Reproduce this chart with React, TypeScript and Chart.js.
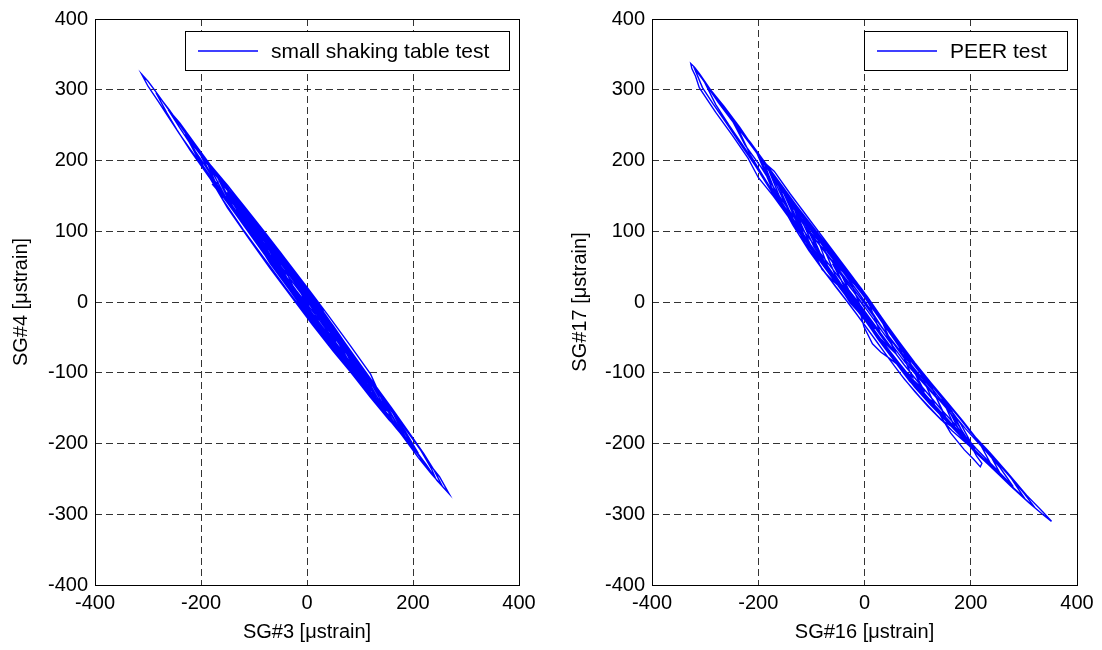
import React, { useEffect, useRef } from "react";
import { Chart, registerables } from "chart.js";

Chart.register(...registerables);

const FONT = "'Liberation Sans', Arial, Helvetica, sans-serif";
const FONT_SIZE = 20;
const LEGEND_FONT_SIZE = 21;
const GRID_COLOR = "rgba(0,0,0,0.8)";
const LINE_COLOR = "rgb(0,0,255)";

// axis ranges / ticks
const xRange = [-400, 400];
const yRange = [-400, 400];
const xStep = 200;
const yStep = 100;

// legend labels and axis titles
const leftLabel = "small shaking table test";
const rightLabel = "PEER test";
const leftXTitle = "SG#3 [\u03bcstrain]";
const leftYTitle = "SG#4 [\u03bcstrain]";
const rightXTitle = "SG#16 [\u03bcstrain]";
const rightYTitle = "SG#17 [\u03bcstrain]";

// SG#3 vs SG#4 trace (small shaking table test)
const smallTableTrace: [number, number][] = [
  [3,-5],
  [-25,30],[-45,52],[-60,66],
  [-35,30],[-5,-2],[20,-30],[45,-50],
  [20,-12],[-15,27],[-50,62],[-85,96],[-120,128],
  [-95,92],[-60,50],[-20,8],[20,-33],[60,-72],[90,-98],[110,-114],
  [80,-76],[40,-30],[0,14],[-40,54],[-70,80],[-95,100],
  [-70,66],[-35,25],[0,-15],[40,-54],[80,-86],
  [50,-42],[15,-2],[-25,40],[-65,78],[-110,120],[-150,158],
  [-120,116],[-80,69],[-40,26],[0,-16],[45,-60],[90,-102],[120,-128],[140,-145],
  [110,-104],[70,-60],[30,-17],[-10,25],[-50,65],[-95,108],[-140,151],[-175,183],[-200,206],
  [-170,166],[-130,121],[-90,78],[-50,36],[-10,-6],[30,-46],[70,-84],[110,-122],[150,-159],[180,-186],[200,-203],
  [175,-172],[140,-132],[100,-88],[60,-46],[20,-6],[-20,36],[-60,74],[-100,112],[-140,150],[-165,170],[-178,166],
  [-160,150],[-120,110],[-80,68],[-40,27],[0,-13],[40,-52],[80,-91],[120,-130],[160,-168],[200,-205],[225,-230],[245,-252],[268,-271],
  [250,-247],[230,-228],[205,-198],[180,-172],[150,-140],[110,-98],[70,-56],[30,-15],[-10,26],[-50,64],[-90,102],[-130,141],[-170,180],[-210,218],[-240,250],[-265,276],[-285,297],[-300,312],[-312,322],
  [-300,305],[-280,283],[-262,262],[-240,237],[-210,205],[-180,172],[-140,130],[-100,88],[-60,46],[-20,5],[20,-35],[60,-74],[100,-112],[140,-150],[180,-188],[210,-216],[230,-238],[242,-248],
  [235,-236],[215,-210],[190,-184],[150,-141],[110,-99],[70,-57],[30,-16],[-10,24],[-50,63],[-90,102],[-130,142],[-170,181],[-210,222],[-240,253],[-262,272],
  [-240,246],[-215,218],[-190,190],[-160,155],[-120,112],[-80,70],[-40,29],[0,-11],[40,-50],[80,-89],[120,-127],[150,-154],
  [125,-120],[90,-82],[50,-40],[10,1],[-30,41],[-70,80],[-105,113],[-130,136],
  [-105,100],[-70,62],[-30,20],[10,-21],[50,-60],[80,-88],[100,-104],
  [75,-70],[40,-32],[0,9],[-40,48],[-80,87],[-110,115],
  [-85,81],[-50,43],[-10,1],[30,-39],[70,-78],[105,-111],[125,-128],
  [100,-96],[60,-53],[20,-11],[-20,30],[-60,70],[-100,110],[-140,150],[-165,173],[-180,186],
  [-155,150],[-120,113],[-80,72],[-40,31],[0,-9],[40,-49],[80,-88],[120,-127],[160,-166],[190,-196],[210,-214],
  [185,-182],[150,-144],[110,-102],[70,-61],[30,-20],[-10,20],[-50,60],[-90,99],[-130,138],[-170,177],[-200,207],[-230,237],
  [-205,202],[-170,164],[-130,122],[-90,81],[-50,40],[-10,0],[30,-40],[65,-73],[90,-94],
  [65,-60],[30,-22],[-10,19],[-50,58],[-90,95],
  [-65,60],[-30,22],[10,-20],[50,-61],[90,-100],[130,-139],[155,-162],[170,-174],
  [145,-140],[110,-102],[70,-60],[30,-18],[-10,22],[-50,61],[-90,100],[-120,128],[-140,146],
  [-115,110],[-80,72],[-40,30],[0,-11],[35,-45],[60,-67],
  [35,-30],[0,8],[-35,43],[-70,76],
  [-45,40],[-10,2],[30,-40],[70,-81],[105,-115],[130,-137],
  [105,-100],[70,-62],[30,-20],[-10,21],[-50,61],[-90,101],[-130,140],[-165,173],
  [-140,135],[-100,93],[-60,51],[-20,10],[20,-30],[60,-70],[100,-110],[140,-150],[180,-189],[210,-220],[235,-243],[255,-260],
  [240,-238],[220,-214],[195,-187],[160,-150],[120,-109],[80,-68],[40,-27],[0,13],[-40,53],[-80,92],[-120,131],[-160,170],[-200,209],[-235,245],[-260,272],[-285,296],
  [-265,268],[-245,243],[-220,214],[-185,177],[-145,135],[-105,94],[-65,53],[-25,12],[15,-28],[55,-67],[90,-100],[115,-121],
  [90,-84],[55,-46],[15,-4],[-25,37],[-65,76],[-100,109],[-120,126],
  [-95,90],[-60,52],[-20,10],[20,-30],[55,-63],[75,-79],
  [50,-45],[15,-7],[-25,34],[-65,73],[-100,105],
  [-75,70],[-40,32],[0,-10],[40,-51],[80,-91],[120,-130],[155,-163],[185,-190],
  [160,-154],[120,-111],[80,-69],[40,-28],[0,13],[-40,53],[-80,92],[-120,131],[-160,170],[-200,208],
  [-175,170],[-140,132],[-100,90],[-60,49],[-20,8],[20,-32],[60,-71],[85,-93],[95,-99],
  [70,-64],[35,-26],[-5,15],[-45,55],[-85,94],[-120,128],[-150,156],
  [-125,120],[-90,82],[-50,40],[-10,-1],[20,-30],[40,-45],
  [15,-8],[-20,30],[-50,60],[-80,86],
  [-55,50],[-20,12],[20,-30],[60,-71],[100,-110],[130,-137],
  [100,-92],[60,-49],[20,-7],[-15,28],[-50,60],
  [-25,20],[0,-8],[20,-25],
  [0,6],[-30,48],[-70,88],[-110,127],[-150,165],[-190,200],
  [-160,146],[-120,102],[-80,61],[-40,20],[0,-20],[40,-59],[80,-97],[120,-135],[155,-167],[180,-186],
  [150,-146],[110,-103],[70,-66],[30,-27],[-10,14],[-50,55],[-90,96],[-130,134],
  [-100,96],[-60,57],[-20,16],[20,-22],[60,-63],[100,-104],[150,-152],
  [120,-102],[80,-60],[40,-19],[0,21],[-40,60],[-80,99],[-120,137],[-160,174],[-195,205],[-220,226],
  [-190,184],[-150,133],[-110,90],[-70,48],[-30,8],[10,-32],[50,-70],[90,-106],[120,-128],
  [90,-88],[50,-49],[10,-9],[-30,31],[-70,72],[-110,113],[-160,162],
  [-130,128],[-90,86],[-50,45],[-10,4],[30,-36],[70,-75],[100,-103],
  [70,-56],[30,-13],[-10,28],[-50,67],[-100,112],
  [-70,60],[-30,14],[10,-28],[50,-67],[90,-105],[130,-143],[170,-180],[200,-206],
  [170,-165],[130,-123],[90,-84],[50,-45],[10,-4],[-25,32],[-60,64],
  [-30,22],[0,-19],[30,-50],[60,-70],
  [30,-12],[-10,30],[-50,70],[-90,108],[-140,150],
  [-110,104],[-70,55],[-30,14],[0,-5],
  [-30,42],[-70,85],[-110,124],[-145,157],[-170,178],
  [-140,132],[-100,88],[-60,46],[-20,6],[20,-34],[60,-73],[100,-111],[135,-144],[160,-165],
  [130,-121],[90,-78],[50,-34],[10,7],[-30,47],[-70,86],[-120,130],
  [-90,82],[-50,38],[-10,-4],[30,-45],[70,-84],[120,-128],
  [90,-81],[50,-37],[10,6],[-30,45],[-80,90],
  [-50,42],[-10,-3],[30,-42],[60,-66],
  [30,-20],[0,6],
];

// SG#16 vs SG#17 trace (PEER test)
const peerTrace: [number, number][] = [
  [0,-8],[-20,14],[-40,34],[-60,54],
  [-40,26],[-15,0],[10,-26],[35,-52],[60,-74],
  [40,-44],[15,-15],[-10,12],[-40,42],[-70,71],[-95,96],[-120,118],
  [-95,78],[-65,44],[-35,14],[-5,-16],[25,-48],[55,-79],[85,-108],[110,-125],
  [85,-84],[55,-52],[25,-20],[-5,12],[-35,42],[-65,70],[-95,100],[-125,130],[-155,160],[-180,186],[-200,206],
  [-175,162],[-145,125],[-115,90],[-85,59],[-55,28],[-25,-1],[5,-30],[35,-62],[65,-92],[95,-120],[125,-144],[150,-160],
  [125,-118],[95,-89],[65,-57],[35,-26],[5,7],[-25,36],[-55,64],[-85,93],[-115,121],[-145,152],[-175,184],[-205,214],[-235,247],[-265,277],[-290,300],[-310,322],[-320,332],[-327,337],[-325,330],
  [-318,319],[-311,303],[-280,268],[-249,236],[-219,203],[-200,176],[-172,150],[-144,121],[-115,93],[-85,63],[-55,32],[-25,3],[5,-26],[35,-57],[65,-86],[95,-114],[130,-144],[170,-177],[205,-207],[240,-233],[275,-260],[310,-284],[335,-300],[352,-310],
  [335,-296],[305,-273],[270,-242],[235,-212],[200,-184],[165,-151],[130,-120],[95,-89],[60,-55],[25,-19],[-10,17],[-45,50],[-80,84],[-115,118],[-150,154],[-185,193],[-220,230],[-255,264],[-280,290],[-300,309],
  [-280,279],[-255,250],[-225,217],[-195,182],[-165,146],[-135,113],[-105,81],[-75,51],[-45,22],[-15,-7],[15,-38],[45,-68],[75,-97],[105,-124],[140,-153],[175,-182],[210,-211],[245,-237],[275,-259],[300,-276],
  [275,-248],[245,-222],[210,-192],[175,-160],[140,-129],[105,-98],[70,-65],[35,-29],[0,8],[-35,42],[-70,75],[-105,108],[-135,137],[-160,161],
  [-135,118],[-112,83],[-88,59],[-80,46],[-61,31],[-46,21],[-27,-1],[5,-28],[35,-60],[65,-89],[95,-117],[125,-143],[155,-167],[185,-192],[205,-205],
  [180,-171],[150,-140],[120,-112],[90,-84],[60,-53],[30,-22],[0,10],[-30,39],[-60,67],[-90,96],[-120,125],[-150,155],[-180,187],[-210,218],[-240,248],
  [-215,208],[-185,171],[-155,135],[-125,102],[-95,70],[-65,40],[-35,10],[-5,-19],[25,-50],[55,-81],[85,-110],[115,-135],[145,-160],[175,-184],[205,-210],[235,-231],[260,-249],
  [235,-214],[205,-188],[175,-160],[145,-133],[115,-105],[85,-78],[55,-47],[25,-15],[-5,16],[-35,44],[-65,71],[-90,93],[-110,108],
  [-85,68],[-55,35],[-30,10],[-8,-15],[-1,-35],[15,-59],[31,-71],[44,-78],[65,-90],[90,-106],
  [65,-63],[35,-30],[5,3],[-25,33],[-55,62],[-85,92],[-115,121],[-145,152],[-180,186],
  [-155,140],[-125,105],[-95,72],[-65,42],[-35,12],[-5,-18],[25,-50],[55,-82],[85,-112],[110,-131],[135,-150],[162,-185],[188,-209],[205,-222],[218,-233],[221,-228],
  [211,-218],[194,-194],[175,-172],[150,-145],[120,-115],[90,-86],[60,-55],[30,-24],[0,7],[-30,36],[-60,64],[-90,92],[-115,114],[-140,138],
  [-115,96],[-90,68],[-60,37],[-30,8],[0,-21],[30,-52],[60,-82],[90,-111],[120,-136],[150,-161],[170,-177],
  [145,-135],[115,-106],[85,-77],[55,-46],[25,-14],[-5,18],[-35,47],[-65,75],[-95,104],[-125,133],[-155,164],[-185,195],[-215,226],[-245,252],[-275,282],[-305,315],[-320,330],
  [-305,303],[-285,280],[-260,253],[-235,225],[-205,192],[-175,156],[-145,122],[-115,90],[-85,59],[-55,29],[-25,0],[5,-30],[35,-62],[65,-92],[95,-121],[125,-146],[155,-169],[185,-193],[215,-216],[245,-238],[275,-260],[300,-277],[320,-290],
  [300,-270],[270,-244],[240,-218],[210,-193],[180,-165],[150,-138],[120,-110],[90,-82],[60,-51],[30,-20],[0,12],[-30,40],[-55,62],[-80,82],
  [-55,38],[-30,9],[0,-22],[30,-55],[60,-86],[90,-115],[115,-133],[130,-142],
  [105,-100],[75,-69],[45,-36],[15,-4],[-15,28],[-45,57],[-75,85],[-105,114],[-135,143],[-165,173],[-200,208],
  [-170,160],[-140,120],[-110,87],[-80,56],[-50,26],[-20,-4],[10,-34],[40,-66],[70,-96],[100,-124],[130,-149],[160,-173],[190,-197],[215,-215],[240,-232],
  [215,-197],[185,-168],[155,-141],[125,-114],[95,-86],[65,-56],[35,-25],[5,8],[-25,37],[-55,63],[-80,82],[-100,97],
  [-75,55],[-50,28],[-25,2],[0,-23],[25,-48],[45,-63],[60,-74],
  [35,-31],[5,2],[-25,32],[-55,60],[-85,90],[-115,118],[-150,150],
  [-120,100],[-90,67],[-60,36],[-30,6],[0,-23],[30,-54],[60,-84],[90,-113],[120,-137],[150,-162],[175,-181],[190,-192],
  [165,-155],[135,-125],[105,-97],[75,-68],[45,-38],[15,-6],[-15,22],[-40,42],[-60,56],
  [-35,18],[-10,-8],[10,-28],[30,-44],
  [10,-5],[-20,33],[-50,63],[-80,93],[-110,123],[-140,153],[-170,185],[-190,198],
  [-165,150],[-135,109],[-105,73],[-75,42],[-45,13],[-15,-17],[15,-48],[45,-79],[75,-109],[105,-135],[135,-159],[165,-182],[200,-205],
  [170,-164],[140,-138],[110,-112],[80,-85],[50,-54],[20,-23],[-10,8],[-40,37],[-70,66],[-100,96],[-130,131],[-160,163],[-190,197],[-220,230],[-250,258],
  [-225,222],[-195,191],[-165,155],[-135,122],[-105,91],[-75,61],[-45,32],[-15,3],[15,-28],[45,-59],[75,-89],[105,-117],[140,-148],[175,-177],[210,-207],[245,-234],[280,-261],
  [255,-234],[225,-208],[190,-179],[160,-152],[130,-126],[100,-100],[70,-72],[40,-43],[10,-12],[-20,18],[-50,47],[-80,77],[-105,98],[-130,127],
  [-105,76],[-80,48],[-55,22],[-30,-2],[-5,-27],[20,-53],[45,-79],[70,-104],[95,-127],[120,-148],[145,-167],[160,-174],
  [135,-135],[105,-110],[75,-84],[45,-54],[15,-22],[-15,9],[-40,33],
  [-20,2],[0,-24],[25,-52],[50,-77],[80,-104],[110,-122],
  [85,-86],[55,-48],[25,-15],[-5,17],[-35,46],[-65,74],[-90,92],
  [-65,42],[-40,16],[-15,-9],[0,-20],
  [-25,26],[-55,58],[-85,89],[-115,119],[-145,149],[-170,172],
  [-140,124],[-110,90],[-80,58],[-50,28],[-20,-1],[10,-31],[40,-62],[70,-92],[100,-120],[130,-145],[160,-169],[180,-184],
  [150,-140],[120,-112],[90,-83],[60,-52],[30,-21],[0,10],[-30,38],[-60,65],[-90,92],[-130,128],
  [-100,78],[-70,46],[-40,16],[-10,-13],[20,-44],[50,-74],[80,-102],[110,-123],
  [80,-78],[50,-45],[20,-12],[-10,18],[-35,39],[-60,58],
  [-35,16],[-10,-10],[20,-38],
];

const frameLegendPlugin = {
  id: "frameLegend",
  afterDraw(chart: any) {
    const { ctx, chartArea: a } = chart;
    ctx.save();
    ctx.setLineDash([]);
    ctx.strokeStyle = "#000";
    ctx.lineWidth = 1;
    const l = Math.round(a.left) + 0.5;
    const t = Math.round(a.top) + 0.5;
    const r = Math.round(a.right) + 0.5;
    const b = Math.round(a.bottom) + 0.5;
    ctx.strokeRect(l, t, r - l, b - t);

    const label = chart.data.datasets[0].label as string;
    ctx.font = `${LEGEND_FONT_SIZE}px ${FONT}`;
    const tw = ctx.measureText(label).width;
    const boxH = 39;
    const lineLen = 60;
    const boxW = Math.round(13 + lineLen + 13 + tw + 20);
    const bx = Math.round(a.right - 10 - boxW);
    const by = Math.round(a.top + 12);
    ctx.fillStyle = "#fff";
    ctx.fillRect(bx, by, boxW, boxH);
    ctx.strokeStyle = "#000";
    ctx.strokeRect(bx + 0.5, by + 0.5, boxW, boxH);
    const my = by + Math.round(boxH / 2);
    ctx.strokeStyle = LINE_COLOR;
    ctx.lineWidth = 1.4;
    ctx.beginPath();
    ctx.moveTo(bx + 13, my);
    ctx.lineTo(bx + 13 + lineLen, my);
    ctx.stroke();
    ctx.fillStyle = "#000";
    ctx.textAlign = "left";
    ctx.textBaseline = "middle";
    ctx.fillText(label, bx + 13 + lineLen + 13, my + 1);
    ctx.restore();
  },
};

function buildConfig(
  label: string,
  trace: [number, number][],
  xTitle: string,
  yTitle: string,
  yWidth: number,
  rightPad: number,
  yTitlePad: number
): any {
  const font = { family: FONT, size: FONT_SIZE };
  return {
    type: "scatter",
    data: {
      datasets: [
        {
          label,
          data: trace.map(([x, y]) => ({ x, y })),
          showLine: true,
          borderColor: LINE_COLOR,
          backgroundColor: LINE_COLOR,
          borderWidth: 1.4,
          pointRadius: 0,
          pointHoverRadius: 0,
          tension: 0,
          fill: false,
        },
      ],
    },
    options: {
      responsive: false,
      animation: false,
      events: [],
      layout: { padding: { top: 19, right: rightPad, bottom: 0, left: 0 } },
      plugins: { legend: { display: false }, tooltip: { enabled: false } },
      scales: {
        x: {
          type: "linear",
          min: xRange[0],
          max: xRange[1],
          ticks: { stepSize: xStep, color: "#000", font, padding: 6, maxRotation: 0 },
          grid: { color: GRID_COLOR, drawTicks: false, lineWidth: 1 },
          border: { display: false, dash: [7, 4] },
          title: { display: true, text: xTitle, color: "#000", font, padding: { top: 0, bottom: 6 } },
          afterFit: (s: any) => {
            s.height = 65;
          },
        },
        y: {
          type: "linear",
          min: yRange[0],
          max: yRange[1],
          ticks: { stepSize: yStep, color: "#000", font, padding: 7 },
          grid: { color: GRID_COLOR, drawTicks: false, lineWidth: 1 },
          border: { display: false, dash: [7, 4] },
          title: { display: true, text: yTitle, color: "#000", font, padding: { top: yTitlePad, bottom: 0 } },
          afterFit: (s: any) => {
            s.width = yWidth;
          },
        },
      },
    },
    plugins: [frameLegendPlugin],
  };
}

function Panel(props: { left: number; make: () => any }) {
  const ref = useRef<HTMLCanvasElement>(null);
  useEffect(() => {
    const chart = new Chart(ref.current as HTMLCanvasElement, props.make());
    return () => chart.destroy();
  }, []);
  return (
    <canvas
      ref={ref}
      width={551}
      height={650}
      style={{ position: "absolute", left: props.left, top: 0, width: 551, height: 650 }}
    />
  );
}

export default function App() {
  return (
    <div style={{ position: "absolute", left: 0, top: 0, width: 1102, height: 650, background: "#fff" }}>
      <Panel
        left={0}
        make={() => buildConfig(leftLabel, smallTableTrace, leftXTitle, leftYTitle, 95, 32, 9)}
      />
      <Panel
        left={551}
        make={() => buildConfig(rightLabel, peerTrace, rightXTitle, rightYTitle, 101, 25, 17)}
      />
    </div>
  );
}
